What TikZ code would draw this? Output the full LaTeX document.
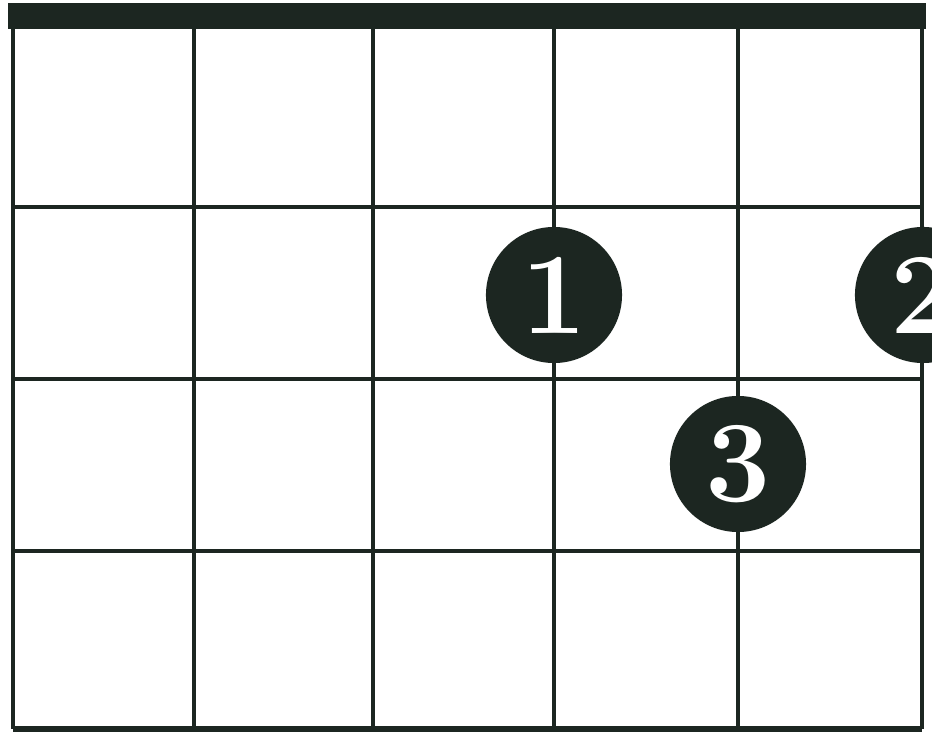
\documentclass[tikz,border=0pt]{standalone}
\usepackage{tikz}

\definecolor{ink}{RGB}{28,38,33}
\tikzset{
  fret/.style={ink,line width=1.2pt},
  finger/.style={circle,fill=ink,text=white,minimum size=1.36cm,inner sep=0pt,
    font=\fontsize{33}{33}\selectfont\bfseries}
}

\begin{document}
\begin{tikzpicture}[x=0.01cm,y=-0.01cm]
            \clip (0,0) rectangle (932,740);
            \fill[white] (0,0) rectangle (932,740);
            % nut
            \fill[ink] (8,3) rectangle (926,29);
            % strings
            \foreach \x in {13,194,373,554,738,922}
              \draw[fret] (\x,29) -- (\x,729);
            % frets
            \foreach \y in {207,379,551}
              \draw[fret] (13,\y) -- (922,\y);
            \draw[fret,line width=1.5pt] (13,729) -- (922,729);
            % fingers
            \node[finger] (f1) at (554,295) {1};
            \node[finger] (f2) at (923,295) {2};
            \node[finger] (f3) at (738,464) {3};
        \end{tikzpicture}
\end{document}
